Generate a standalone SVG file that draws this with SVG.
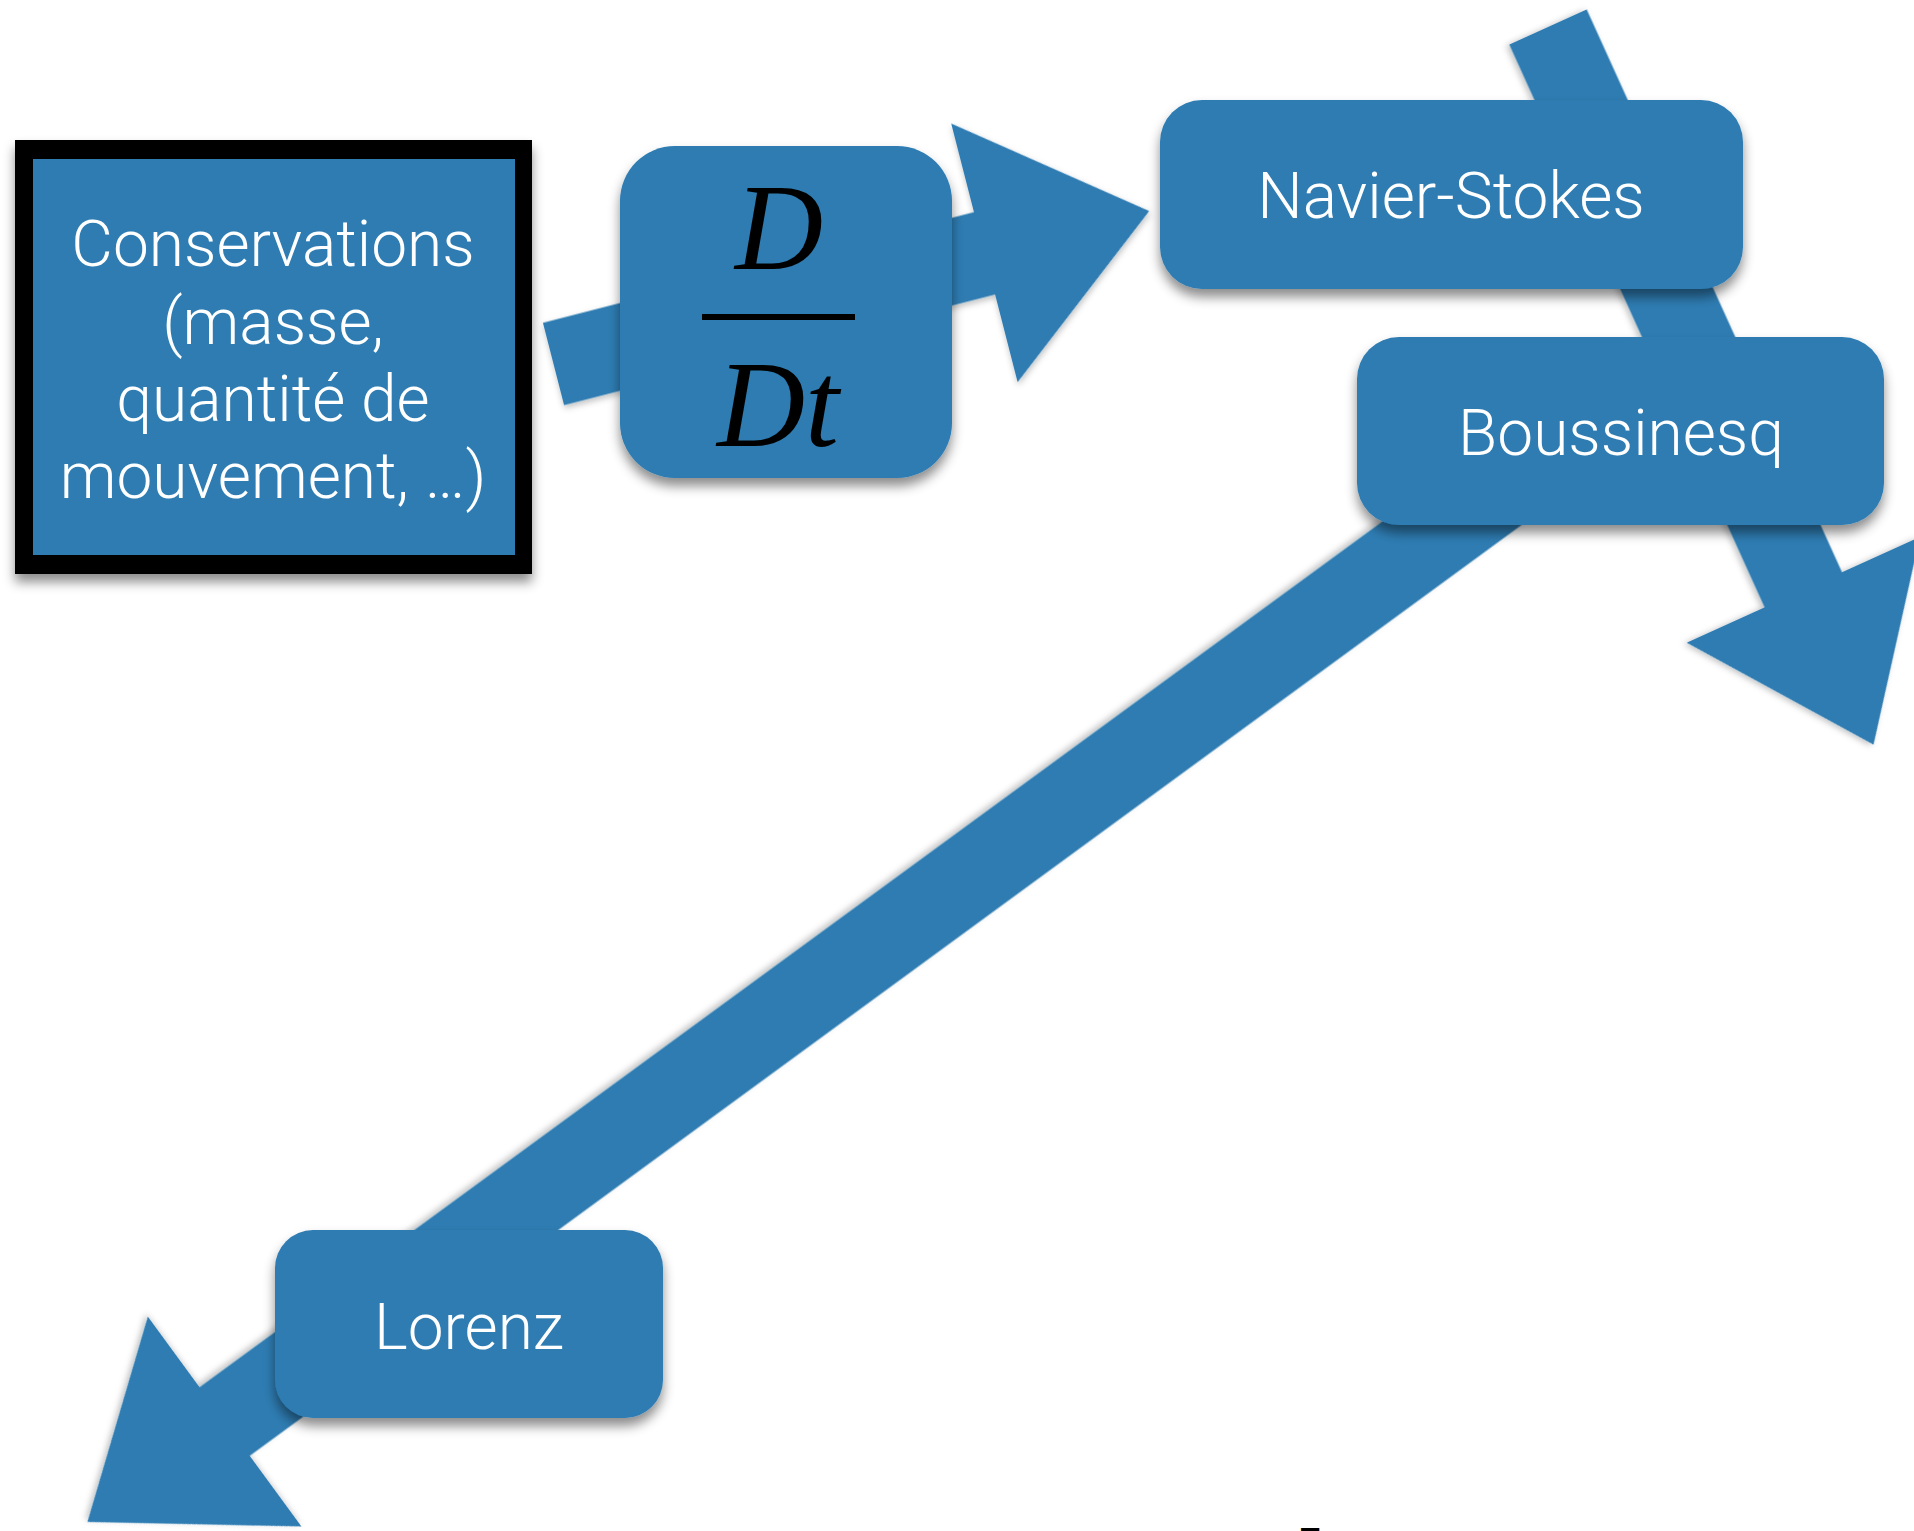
<svg xmlns="http://www.w3.org/2000/svg" width="1914" height="1531" viewBox="0 0 1914 1531">
  <defs>
    <filter id="shadow" x="-10%" y="-10%" width="120%" height="130%">
      <feDropShadow dx="0" dy="8" stdDeviation="6" flood-color="#000" flood-opacity="0.45"/>
    </filter>
    <filter id="ashadow" x="-10%" y="-10%" width="120%" height="120%">
      <feDropShadow dx="0" dy="3" stdDeviation="3" flood-color="#000" flood-opacity="0.25"/>
    </filter>
  </defs>
  <style>
    .felt { fill: #2d7cb2; }
    .arrow { fill: #2d7cb2; }
    .lbl { font-family: Roboto, "Liberation Sans", sans-serif; font-weight: 300; font-size: 64px; fill: #ffffff; text-anchor: middle; }
    .math { font-family: "Liberation Serif", serif; font-style: italic; font-size: 122px; fill: #000; text-anchor: middle; }
  </style>
  <rect width="1914" height="1531" fill="#ffffff"/>

  <g id="connectors">
    <path class="arrow" filter="url(#ashadow)" transform="translate(553.5,364) rotate(-14.4)" d="M0,-42.5 L445,-42.5 L445,-134 L615,0 L445,133 L445,42.5 L0,42.5 Z"/>
    <path class="arrow" filter="url(#ashadow)" transform="translate(1548,27) rotate(65.6)" d="M0,-42.5 L618,-42.5 L618,-128 L788,0 L618,128 L618,42.5 L0,42.5 Z"/>
    <path class="arrow" filter="url(#ashadow)" transform="translate(1449.6,525) rotate(143.8)" d="M-80,-42.5 L1518,-42.5 L1518,-130 L1688,0 L1518,130 L1518,42.5 L-80,42.5 Z"/>
  </g>

  <g id="conservations" filter="url(#shadow)">
    <rect x="15" y="140" width="517" height="434" fill="#000"/>
    <rect class="felt" x="33" y="159" width="482" height="396"/>
    <text class="lbl" x="273" y="266">Conservations</text>
    <text class="lbl" x="273" y="344">(masse,</text>
    <text class="lbl" x="273" y="421">quantité de</text>
    <text class="lbl" x="273" y="498">mouvement, …)</text>
  </g>

  <g id="ddt" filter="url(#shadow)">
    <rect class="felt" x="620" y="146" width="332" height="332" rx="55" ry="55"/>
    <text class="math" x="779" y="269">D</text>
    <rect x="702" y="314" width="153" height="6" fill="#000"/>
    <text class="math" x="778" y="446">Dt</text>
  </g>

  <g id="navier-stokes" filter="url(#shadow)">
    <rect class="felt" x="1160" y="100" width="583" height="189" rx="42" ry="42"/>
    <text class="lbl" x="1451" y="218">Navier-Stokes</text>
  </g>

  <g id="boussinesq" filter="url(#shadow)">
    <rect class="felt" x="1357" y="337" width="527" height="188" rx="42" ry="42"/>
    <text class="lbl" x="1621" y="455">Boussinesq</text>
  </g>

  <g id="lorenz" filter="url(#shadow)">
    <rect class="felt" x="275" y="1230" width="388" height="188" rx="38" ry="38"/>
    <text class="lbl" x="469" y="1349">Lorenz</text>
  </g>

  <text x="1299" y="1556" font-family="Liberation Sans, sans-serif" font-size="40" fill="#000">7</text>
</svg>
